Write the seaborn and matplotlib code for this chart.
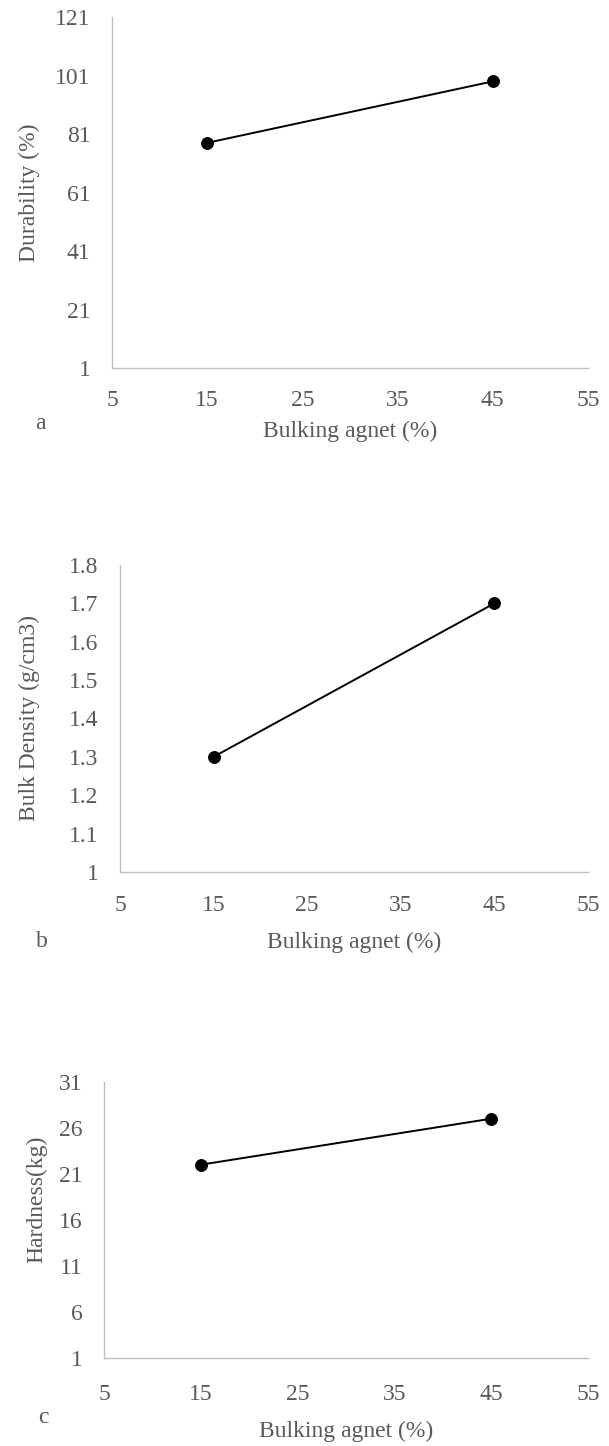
import matplotlib
matplotlib.use("Agg")
import matplotlib.pyplot as plt
from matplotlib.ticker import FuncFormatter
import seaborn as sns
import pandas as pd

# Bulking agent level (%) and measured pellet properties
bulking_agent = [15, 45]
durability = [78, 99]
bulk_density = [1.3, 1.7]
hardness = [22, 27]

x_ticks = [5, 15, 25, 35, 45, 55]
durability_ticks = [1, 21, 41, 61, 81, 101, 121]
density_ticks = [1.0, 1.1, 1.2, 1.3, 1.4, 1.5, 1.6, 1.7, 1.8]
hardness_ticks = [1, 6, 11, 16, 21, 26, 31]

x_label = "Bulking agnet (%)"
y_labels = ["Durability (%)", "Bulk Density (g/cm3)", "Hardness(kg)"]
panel_letters = ["a", "b", "c"]

sns.set_style("white")
plt.rcParams["font.family"] = ["Liberation Serif", "DejaVu Serif"]

TEXT = "#595959"
SPINE = "#bfbfbf"
FS = 17

fig = plt.figure(figsize=(6.09, 14.46), dpi=100)

# axes rectangles [left, bottom, width, height] in figure fraction
rects = [
    [0.1839, 0.7455, 0.7816, 0.2427],
    [0.1970, 0.3970, 0.7685, 0.2123],
    [0.1708, 0.0609, 0.7947, 0.1909],
]
series = [durability, bulk_density, hardness]
yticks = [durability_ticks, density_ticks, hardness_ticks]
xlabel_y = [-0.150, -0.195, -0.228]
ylabel_xy = [(-0.174, 0.5), (-0.194, 0.5), (-0.138, 0.576)]
letter_xy = [(-0.151, -0.157), (-0.167, -0.228), (-0.126, -0.217)]
xtick_pad = [15.5, 16.5, 18.5]

for i in range(3):
    ax = fig.add_axes(rects[i])
    df = pd.DataFrame({"x": bulking_agent, "y": series[i]})
    sns.lineplot(data=df, x="x", y="y", ax=ax, color="black", linewidth=1.4,
                 marker="o", markersize=8.5, markeredgecolor="black",
                 markerfacecolor="black")
    ax.set_xlim(x_ticks[0], x_ticks[-1])
    ax.set_ylim(yticks[i][0], yticks[i][-1])
    ax.set_xticks(x_ticks)
    ax.set_yticks(yticks[i])
    ax.yaxis.set_major_formatter(FuncFormatter(lambda v, p: f"{v:g}"))
    ax.tick_params(axis="both", length=0, labelsize=FS, labelcolor=TEXT)
    ax.tick_params(axis="y", pad=15.5)
    ax.tick_params(axis="x", pad=xtick_pad[i])
    for side in ["top", "right"]:
        ax.spines[side].set_visible(False)
    for side in ["left", "bottom"]:
        ax.spines[side].set_color(SPINE)
        ax.spines[side].set_linewidth(1.0)
    ax.set_xlabel(x_label, fontsize=FS, color=TEXT)
    ax.xaxis.set_label_coords(0.5, xlabel_y[i])
    ax.set_ylabel(y_labels[i], fontsize=FS, color=TEXT, va="center")
    ax.yaxis.set_label_coords(*ylabel_xy[i])
    ax.text(letter_xy[i][0], letter_xy[i][1], panel_letters[i],
            transform=ax.transAxes, fontsize=FS, color=TEXT,
            ha="center", va="center")

fig.savefig("out.png", dpi=100)
